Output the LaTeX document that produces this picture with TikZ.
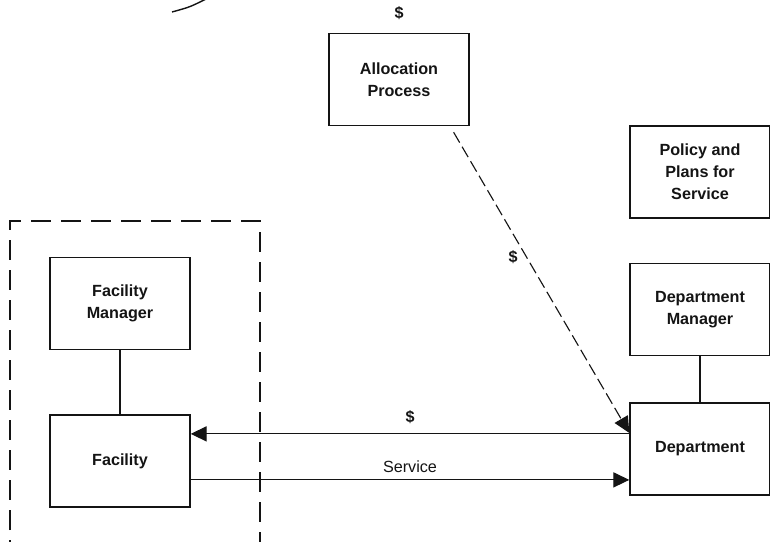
\documentclass[tikz,border=0pt]{standalone}
\usepackage{fontspec}
\setmainfont{Liberation Sans}
\usetikzlibrary{positioning, arrows.meta, calc}
\definecolor{scanink}{HTML}{141414}

\begin{document}
\begin{tikzpicture}[
  x=0.025cm, y=-0.025cm,
  unit/.style={
    draw=scanink, line width=1pt, minimum width=3.5cm, minimum height=2.3cm,
    align=center, font=\fontsize{11.5}{15.6}\selectfont\bfseries, text=scanink
  },
  flow/.style={-{Triangle[length=0.4cm, width=0.38cm]}, line width=0.8pt, color=scanink},
  link/.style={line width=1pt, color=scanink},
  tag/.style={font=\fontsize{11.5}{13}\selectfont\bfseries, text=scanink},
]
\useasboundingbox (0,0) rectangle (770,541);
\clip (0,0) rectangle (770,541);

\node[unit] (alloc) at (399,79.5) {Allocation\\Process};
\node[tag, above=0.2cm of alloc] (dollartop) {\$};

\node[unit] (policy) at (700,172) {Policy and\\Plans for\\Service};
\node[unit, below=1.1cm of policy] (deptmgr) {Department\\Manager};
\node[unit, below=1.15cm of deptmgr] (dept) {Department};

\node[unit] (facmgr) at (120,303.5) {Facility\\Manager};
\node[unit, below=1.6cm of facmgr] (fac) {Facility};

% boundary of the facility side
\draw[link, dash pattern=on 0.5cm off 0.25cm] (10,560) -- (10,221) -- (260,221) -- (260,560);

\draw[link] (facmgr) -- (fac);
\draw[link] (deptmgr) -- (dept);

% allocated money
\coordinate (allocout) at ($(alloc.south west)!0.886!(alloc.south east)+(0,6)$);
\draw[flow, dash pattern=on 0.3cm off 0.12cm] (allocout) -- ([yshift=0.4cm]dept.west);
\node[tag] (dollarmid) at (513,257) {\$};

% payment and service
\draw[flow] ([yshift=0.375cm]dept.west) -- ([yshift=0.375cm]dept.west -| fac.east)
  node[tag, midway, above=0.12cm] {\$};
\draw[flow] ([yshift=-0.775cm]dept.west -| fac.east) -- ([yshift=-0.775cm]dept.west)
  node[tag, font=\fontsize{11.5}{13}\selectfont, midway, above=0.05cm] {Service};

% stroke coming in at the top
\coordinate (inA) at (172,12);
\coordinate (inB) at (206,-1);
\draw[link] (inA) .. controls (190,7) .. (inB);
\end{tikzpicture}
\end{document}
